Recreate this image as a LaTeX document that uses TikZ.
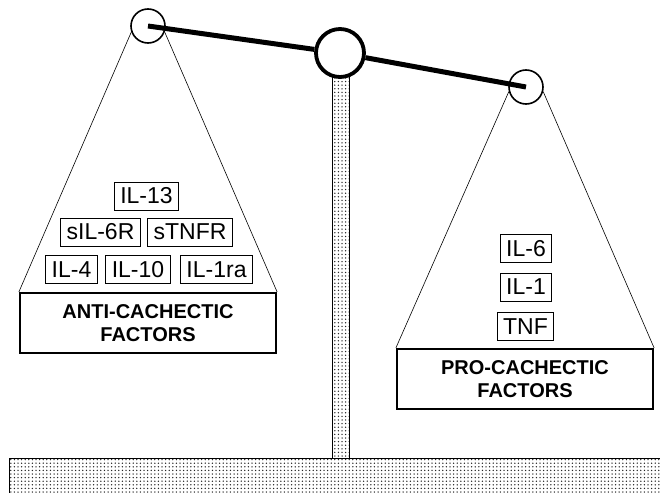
\documentclass[tikz,border=0pt]{standalone}
\usepackage{fontspec}
\setmainfont{Liberation Sans}
\usetikzlibrary{patterns.meta}

\begin{document}
\begin{tikzpicture}[x=1pt, y=-1pt,
  factor/.style={draw, rectangle, line width=1pt, inner xsep=6pt, inner ysep=0pt,
                 minimum height=28pt, font=\fontsize{23}{25}\selectfont},
  panbox/.style={draw, rectangle, line width=2.2pt, minimum width=256pt, minimum height=60pt,
                 align=center, font=\fontsize{20}{22.5}\selectfont\bfseries},
  hook/.style={draw, circle, line width=1.6pt, minimum size=34pt, inner sep=0pt},
  cord/.style={line width=0.6pt},
  stand/.style={draw, line width=0.8pt,
                pattern={Dots[distance=3.6pt, radius=0.75pt]}, pattern color=black!85}]
  \useasboundingbox (0,0) rectangle (660,492);

  % stand and post
  \draw[stand] (9,458) rectangle (664,496);
  \draw[stand] (332,70) rectangle (349,458);

  % beam with hooks
  \node (lhook) [hook] at (148,26) {};
  \node (rhook) [hook] at (526,87) {};
  \node (pivot) [hook, line width=3.8pt, minimum size=48pt, fill=white] at (340,53) {};
  \draw[line width=5pt] (lhook.center) -- (pivot);
  \draw[line width=5pt] (pivot) -- (rhook.center);

  % pans
  \node (anti) [panbox] at (148,323) {ANTI-CACHECTIC\\FACTORS};
  \node (pro)  [panbox] at (525,379) {PRO-CACHECTIC\\FACTORS};

  \draw[cord] (lhook.200) -- (anti.north west);
  \draw[cord] (lhook.-20) -- (anti.north east);
  \draw[cord] (rhook.195) -- (pro.north west);
  \draw[cord] (rhook.-15) -- (pro.north east);

  % anti-cachectic factors
  \node (il13)  [factor] at (146.5,196) {IL-13};
  \node (sil6r) [factor] at (100.5,232) {sIL-6R};
  \node (stnfr) [factor] at (190,232)   {sTNFR};
  \node (il4)   [factor] at (71.5,269.5)  {IL-4};
  \node (il10)  [factor] at (138,269.5)   {IL-10};
  \node (il1ra) [factor] at (216.5,269.5) {IL-1ra};

  % pro-cachectic factors
  \node (il6) [factor] at (526,248.5) {IL-6};
  \node (il1) [factor] at (526,287)   {IL-1};
  \node (tnf) [factor] at (525.5,326.5) {TNF};
\end{tikzpicture}
\end{document}
